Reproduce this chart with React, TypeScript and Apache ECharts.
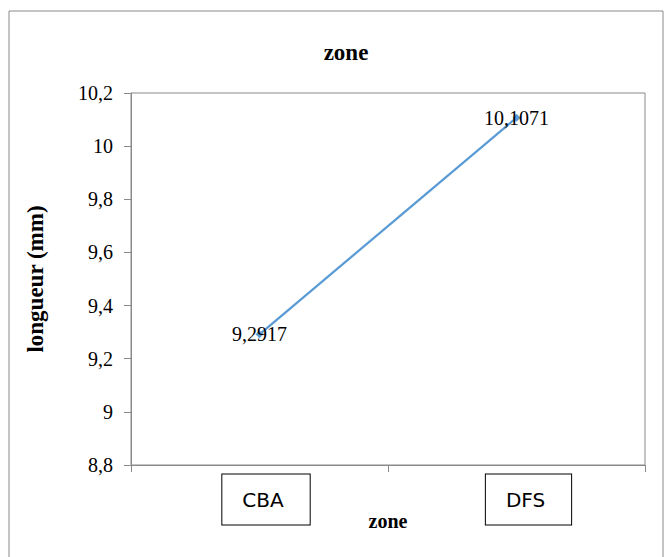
import React, { useEffect, useRef } from "react";
import * as echarts from "echarts";

const categories = ["CBA", "DFS"];
const lengthValues = [9.2917, 10.1071];
const dataLabels = ["9,2917", "10,1071"];
const chartTitle = "zone";
const xAxisName = "zone";
const yAxisName = "longueur (mm)";
const yMin = 8.8;
const yMax = 10.2;
const yStep = 0.2;

const serif = "'Liberation Serif', 'Times New Roman', serif";
const gray = "#8a8a8a";

export default function App() {
  const ref = useRef<HTMLDivElement>(null);
  useEffect(() => {
    if (!ref.current) return;
    const chart = echarts.init(ref.current, null, { renderer: "svg" });
    const boxStyle = {
      fontFamily: "'DejaVu Sans', sans-serif",
      fontSize: 20,
      color: "#000",
      lineHeight: 21,
      borderColor: "#000",
      borderWidth: 1,
      padding: [15, 26, 15, 20],
      backgroundColor: "#fff",
    };
    chart.setOption({
      animation: false,
      backgroundColor: "#ffffff",
      title: {
        text: chartTitle,
        left: 341,
        top: 36,
        textAlign: "center",
        textStyle: { fontFamily: serif, fontSize: 23, fontWeight: "bold", color: "#000" },
      },
      graphic: [
        {
          type: "rect",
          shape: { x: 9, y: 11, width: 654, height: 600 },
          style: { fill: "none", stroke: gray, lineWidth: 1 },
          silent: true,
        },
      ],
      grid: {
        left: 131,
        top: 93,
        width: 514,
        height: 372,
        show: true,
        borderColor: gray,
        borderWidth: 1,
        backgroundColor: "transparent",
      },
      xAxis: {
        type: "category",
        data: categories,
        boundaryGap: true,
        name: xAxisName,
        nameLocation: "middle",
        nameGap: 46,
        nameMoveOverlap: false,
        nameTextStyle: { fontFamily: serif, fontSize: 20, fontWeight: "bold", color: "#000" },
        axisLine: { lineStyle: { color: gray, width: 1 } },
        axisTick: { show: true, length: 7, lineStyle: { color: gray } },
        axisLabel: {
          margin: 9,
          formatter: (v: string, i: number) => `{${i === 0 ? "s" : "t"}| }{b|${v}}`,
          rich: {
            s: { width: 13, fontSize: 20, lineHeight: 51 },
            t: { width: 24, fontSize: 20, lineHeight: 51 },
            b: boxStyle,
          },
        },
        splitLine: { show: false },
      },
      yAxis: {
        type: "value",
        min: yMin,
        max: yMax,
        interval: yStep,
        name: yAxisName,
        nameLocation: "middle",
        nameRotate: 90,
        nameGap: 84,
        nameMoveOverlap: false,
        nameTextStyle: { fontFamily: serif, fontSize: 23, fontWeight: "bold", color: "#000" },
        axisLine: { show: true, lineStyle: { color: gray, width: 1 } },
        axisTick: { show: true, length: 7, inside: false, lineStyle: { color: gray } },
        axisLabel: {
          margin: 18,
          fontFamily: serif,
          fontSize: 20,
          color: "#000",
          formatter: (v: number) => String(parseFloat(v.toFixed(1))).replace(".", ","),
        },
        splitLine: { show: false },
      },
      series: [
        {
          type: "line",
          data: lengthValues,
          symbol: "diamond",
          symbolSize: 8,
          clip: false,
          lineStyle: { color: "#5b9bd5", width: 2.25 },
          itemStyle: { color: "#5b9bd5" },
          label: {
            show: true,
            position: "inside",
            fontFamily: serif,
            fontSize: 20,
            color: "#000",
            formatter: (p: any) => dataLabels[p.dataIndex],
          },
        },
      ],
    });
    return () => chart.dispose();
  }, []);
  return (
    <div
      ref={ref}
      style={{ position: "fixed", left: 0, top: 0, width: 664, height: 557 }}
    />
  );
}
